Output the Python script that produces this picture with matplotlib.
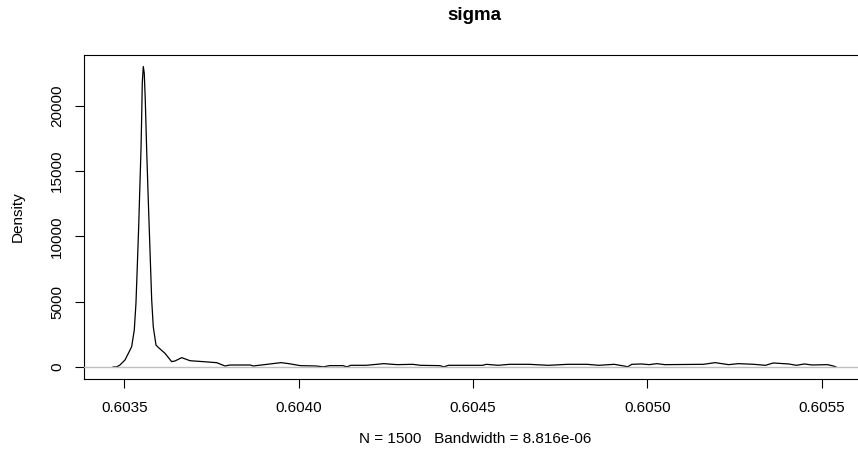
import numpy as np
import matplotlib
matplotlib.use("Agg")
import matplotlib.pyplot as plt

# density estimate of sigma
sigma_x = [0.6034680, 0.6034782, 0.6034877, 0.6035020, 0.6035069, 0.6035212,
           0.6035287, 0.6035335, 0.6035373, 0.6035413, 0.6035450, 0.6035479,
           0.6035499, 0.6035516, 0.6035545, 0.6035573, 0.6035602, 0.6035642,
           0.6035688, 0.6035737, 0.6035786, 0.6035831, 0.6035909, 0.6035975,
           0.6036167, 0.6036359, 0.6036454, 0.6036646, 0.6036884, 0.6037265,
           0.6037649, 0.6037887, 0.6038030, 0.6038604, 0.6038698, 0.6039083,
           0.6039493, 0.6039716, 0.6040049, 0.6040493, 0.6040714, 0.6040883,
           0.6041270, 0.6041382, 0.6041494, 0.6041938, 0.6042437, 0.6042827,
           0.6043271, 0.6043492, 0.6044051, 0.6044160, 0.6044295, 0.6045273,
           0.6045381, 0.6045714, 0.6046049, 0.6046603, 0.6047162, 0.6047715,
           0.6048271, 0.6048604, 0.6049048, 0.6049438, 0.6049550, 0.6049828,
           0.6050049, 0.6050272, 0.6050493, 0.6051605, 0.6051938, 0.6052328,
           0.6052606, 0.6053051, 0.6053383, 0.6053607, 0.6054051, 0.6054272,
           0.6054496, 0.6054716, 0.6055161, 0.6055327, 0.6055405]
density = [0, 5, 153, 536, 790, 1555,
           2833, 4877, 7680, 10743, 14066, 16616,
           19166, 21720, 23000, 22490, 20444, 16616,
           12787, 8958, 5130, 3086, 1684, 1500,
           1047, 408, 460, 715, 480, 408,
           330, 77, 150, 153, 77, 200,
           332, 255, 102, 77, 10, 102,
           102, 10, 128, 128, 255, 179,
           204, 128, 102, 10, 128, 128,
           204, 128, 204, 204, 128, 204,
           204, 128, 204, 20, 204, 230,
           179, 255, 179, 204, 332, 179,
           255, 204, 128, 306, 230, 128,
           230, 153, 179, 77, 0]

x_ticks = [0.6035, 0.6040, 0.6045, 0.6050, 0.6055]
y_ticks = [0, 5000, 10000, 15000, 20000]

plt.rcParams['font.family'] = ['Liberation Sans', 'DejaVu Sans']

fig = plt.figure(figsize=(8.58, 4.57), dpi=100)
ax = fig.add_axes([84.2 / 858, (457 - 379) / 457, 780.7 / 858, 324.5 / 457])

ax.plot(sigma_x, density, color='black', lw=0.9, zorder=2)
ax.axhline(0, color='#BEBEBE', lw=1.0, zorder=3)

# R style limits: data range padded by 4 %
xr = max(sigma_x) - min(sigma_x)
ax.set_xlim(min(sigma_x) - 0.04 * xr, max(sigma_x) + 0.04 * xr)
yr = max(density) - min(density)
ax.set_ylim(min(density) - 0.04 * yr, max(density) + 0.04 * yr)

ax.set_xticks(x_ticks)
ax.set_xticklabels(['%.4f' % t for t in x_ticks])
ax.set_yticks(y_ticks)
ax.set_yticklabels([str(t) for t in y_ticks], rotation=90, va='center')

ax.tick_params(axis='both', length=6.5, width=0.8, labelsize=11, color='black')
ax.tick_params(axis='x', pad=9)
ax.tick_params(axis='y', pad=8)
for s in ax.spines.values():
    s.set_linewidth(0.8)
ax.spines['right'].set_visible(False)

fig.text(ax.get_position().x0 + ax.get_position().width / 2, (457 - 20) / 457,
         'sigma', ha='center', va='baseline', fontsize=13.5, fontweight='bold')
fig.text(475 / 858, (457 - 443.3) / 457, 'N = 1500   Bandwidth = 8.816e-06',
         ha='center', va='baseline', fontsize=11)
fig.text(18 / 858, ax.get_position().y0 + ax.get_position().height / 2, 'Density',
         rotation=90, ha='center', va='center', fontsize=11)

fig.savefig('out.png', dpi=100)
